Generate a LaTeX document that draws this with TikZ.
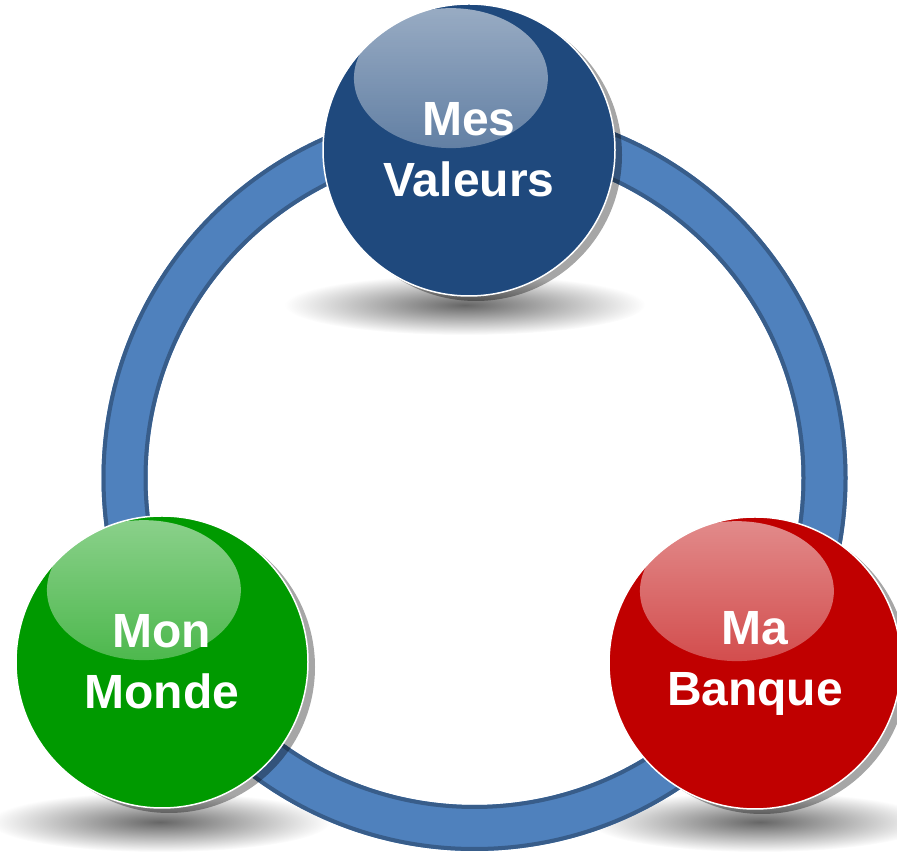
\documentclass[tikz,border=0pt]{standalone}
\usepackage{fontspec}
\setsansfont{Liberation Sans}
\usetikzlibrary{shadows,fadings,positioning}

\tikzfading[name=gloss fade, top color=transparent!45, bottom color=transparent!95]
\tikzfading[name=soft fade, inner color=transparent!0, outer color=transparent!100]

\definecolor{ringblue}{HTML}{4F81BD}
\definecolor{ringedge}{HTML}{385D8A}
\definecolor{valblue}{HTML}{1F497D}
\definecolor{mondegreen}{HTML}{009A00}
\definecolor{banquered}{HTML}{C00000}

\begin{document}
\begin{tikzpicture}[x=1pt,y=1pt,
    base node/.style={circle,draw=white,line width=1.5pt,minimum size=292pt,inner sep=0pt,
        text=white,align=center,font=\sffamily\bfseries\fontsize{48}{61}\selectfont,
        drop shadow={shadow xshift=7pt,shadow yshift=-5pt,fill=black,opacity=0.35},
        path picture={\fill[white,path fading=gloss fade]
            ([xshift=-18pt,yshift=72pt]path picture bounding box.center) ellipse [x radius=97pt,y radius=70pt];}},
    ground shadow/.style={fill=black!60,path fading=soft fade}]

\useasboundingbox (0,0) rectangle (897,853);
\coordinate (ring) at (474.5,375);

% shadows on the ground
\fill[ground shadow] (465,548) ellipse [x radius=180,y radius=30];
\fill[ground shadow] (160,31) ellipse [x radius=170,y radius=30];
\fill[ground shadow] (760,31) ellipse [x radius=170,y radius=30];

% the ring
\fill[ringblue,even odd rule] (ring) circle (373) (ring) circle (327);
\draw[ringedge,line width=4pt] (ring) circle (371) (ring) circle (329);

\node[base node,fill=valblue]    (valeurs) at (469,703) {Mes\\Valeurs};
\node[base node,fill=mondegreen] (monde)   at (162,191) {Mon\\Monde};
\node[base node,fill=banquered]  (banque)  at (755,190) {Ma\\Banque};
\end{tikzpicture}
\end{document}
